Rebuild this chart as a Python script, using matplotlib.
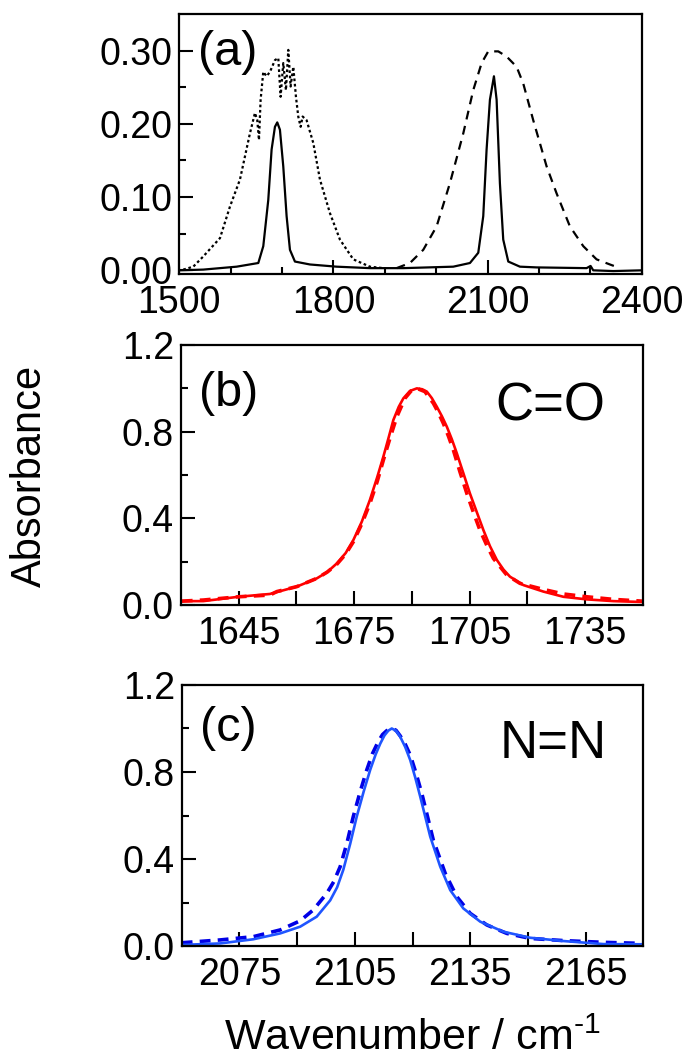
import matplotlib
matplotlib.use("Agg")
import matplotlib.pyplot as plt
from matplotlib.ticker import MultipleLocator, FixedLocator

plt.rcParams["font.family"] = ["Liberation Sans", "DejaVu Sans"]
plt.rcParams["mathtext.fontset"] = "custom"
plt.rcParams["mathtext.rm"] = "Liberation Sans"
plt.rcParams["axes.linewidth"] = 1.6

# (a) overview spectra
a_solid_x = [1500, 1546.7, 1611.6, 1653.8, 1663.5, 1673.2, 1679.7, 1686.2, 1690.7, 1695.9,
             1702.4, 1708.9, 1715.4, 1725.1, 1754.3, 1806.2, 1871.1, 1936.0, 2033.3, 2065.8,
             2082.0, 2091.7, 2098.2, 2104.7, 2112.5, 2117.7, 2124.1, 2130.6, 2140.4, 2163.1,
             2195.5, 2292.8, 2300.6, 2305.8, 2344.8, 2400]
a_solid_y = [0.0, 0.001, 0.005, 0.010, 0.033, 0.096, 0.165, 0.196, 0.202, 0.192,
             0.142, 0.074, 0.028, 0.012, 0.008, 0.005, 0.003, 0.003, 0.005, 0.010,
             0.024, 0.074, 0.165, 0.233, 0.265, 0.233, 0.119, 0.042, 0.012, 0.005,
             0.004, 0.003, 0.006, 0.0, -0.001, 0.0]

a_dot_x = [1507.8, 1527.2, 1546.7, 1579.2, 1598.6, 1618.1, 1637.5, 1647.3, 1651.8, 1655.1,
           1658.3, 1663.5, 1670.0, 1676.5, 1686.2, 1692.7, 1697.2, 1702.4, 1707.6, 1712.2,
           1716.7, 1721.9, 1727.1, 1731.6, 1736.2, 1740.1, 1747.8, 1760.8, 1773.8, 1793.3,
           1812.7, 1838.7, 1871.1, 1897.1]
a_dot_y = [0.001, 0.005, 0.019, 0.044, 0.087, 0.124, 0.187, 0.215, 0.205, 0.178,
           0.233, 0.271, 0.265, 0.271, 0.287, 0.290, 0.237, 0.283, 0.246, 0.301,
           0.251, 0.278, 0.237, 0.210, 0.196, 0.210, 0.205, 0.174, 0.124, 0.078,
           0.042, 0.015, 0.005, 0.003]

a_dash_x = [1923.0, 1949.0, 1974.9, 2000.9, 2026.8, 2052.8, 2072.2, 2088.5, 2101.4, 2120.9,
            2137.1, 2156.6, 2169.6, 2189.0, 2215.0, 2234.5, 2260.4, 2286.4, 2312.3, 2338.3,
            2357.7]
a_dash_y = [0.003, 0.010, 0.028, 0.060, 0.119, 0.187, 0.246, 0.283, 0.299, 0.299,
            0.292, 0.278, 0.255, 0.205, 0.142, 0.105, 0.060, 0.033, 0.015, 0.008,
            0.003]

# (b) C=O band, normalised
b_solid_x = [1630.2, 1635.8, 1644.9, 1653.1, 1660.1, 1665.3, 1668.0, 1670.5, 1672.8, 1674.8,
             1677.0, 1679.1, 1681.0, 1682.6, 1684.0, 1685.2, 1686.6, 1687.8, 1689.5, 1691.3,
             1692.7, 1693.9, 1695.2, 1696.5, 1697.8, 1699.1, 1700.4, 1701.7, 1703.4, 1705.1,
             1706.9, 1708.6, 1710.3, 1712.1, 1713.8, 1715.5, 1719.0, 1724.2, 1729.4, 1735.5,
             1742.4, 1749.8]
b_solid_y = [0.018, 0.018, 0.038, 0.051, 0.085, 0.123, 0.152, 0.192, 0.240, 0.300,
             0.385, 0.485, 0.590, 0.685, 0.775, 0.854, 0.915, 0.954, 0.988, 1.000,
             0.996, 0.985, 0.955, 0.915, 0.872, 0.823, 0.765, 0.700, 0.608, 0.515,
             0.428, 0.346, 0.272, 0.208, 0.164, 0.131, 0.092, 0.062, 0.038, 0.026,
             0.018, 0.014]
b_dash_x = [1630.2, 1635.8, 1644.9, 1653.1, 1654.9, 1660.1, 1665.3, 1668.0, 1670.5, 1672.8,
            1674.8, 1677.0, 1679.1, 1681.0, 1682.6, 1684.4, 1686.1, 1688.2, 1689.8, 1691.3,
            1693.4, 1695.6, 1696.9, 1698.2, 1699.5, 1700.8, 1702.5, 1704.3, 1706.0, 1707.7,
            1709.5, 1711.2, 1714.7, 1718.1, 1724.2, 1729.4, 1735.5, 1742.4, 1749.8]
b_dash_y = [0.018, 0.023, 0.038, 0.046, 0.062, 0.085, 0.123, 0.152, 0.188, 0.235,
            0.292, 0.375, 0.469, 0.570, 0.669, 0.775, 0.869, 0.954, 0.988, 1.000,
            0.985, 0.931, 0.888, 0.838, 0.780, 0.715, 0.615, 0.515, 0.428, 0.346,
            0.275, 0.215, 0.138, 0.100, 0.072, 0.051, 0.038, 0.026, 0.018]

# (c) N=N band, normalised
c_solid_x = [2060.0, 2070.0, 2078.6, 2085.6, 2090.8, 2095.1, 2098.6, 2100.4, 2102.0, 2103.8,
             2105.5, 2107.3, 2109.0, 2110.4, 2111.6, 2112.7, 2113.7, 2114.6, 2115.7, 2116.8,
             2118.1, 2119.4, 2120.7, 2122.0, 2123.3, 2124.6, 2127.2, 2129.8, 2133.2, 2137.6,
             2143.6, 2150.6, 2159.2, 2169.6, 2180.0]
c_solid_y = [0.005, 0.012, 0.031, 0.058, 0.089, 0.135, 0.210, 0.270, 0.350, 0.470,
             0.595, 0.710, 0.810, 0.880, 0.930, 0.968, 0.990, 1.000, 0.990, 0.962,
             0.915, 0.855, 0.775, 0.687, 0.595, 0.503, 0.365, 0.257, 0.173, 0.112,
             0.066, 0.038, 0.023, 0.009, 0.008]
c_dash_x = [2060.0, 2070.0, 2078.6, 2085.6, 2090.8, 2094.2, 2097.7, 2099.5, 2101.2, 2102.9,
            2104.6, 2106.4, 2108.1, 2109.6, 2111.1, 2112.2, 2113.3, 2114.6, 2115.7, 2116.8,
            2118.1, 2119.4, 2120.9, 2122.4, 2123.9, 2125.4, 2128.5, 2131.5, 2135.0, 2139.3,
            2144.5, 2150.6, 2159.2, 2169.6, 2180.0]
c_dash_y = [0.015, 0.028, 0.043, 0.074, 0.116, 0.166, 0.242, 0.295, 0.365, 0.470,
            0.595, 0.710, 0.809, 0.885, 0.940, 0.972, 0.990, 1.000, 0.992, 0.966,
            0.928, 0.878, 0.795, 0.702, 0.595, 0.487, 0.334, 0.227, 0.150, 0.097,
            0.058, 0.035, 0.025, 0.017, 0.012]

FS_TICK = 27
FS_PANEL = 35
FS_BAND = 38


def style_axes(ax):
    ax.tick_params(which="both", direction="in", top=False, right=False,
                   labelsize=FS_TICK, width=1.5)
    ax.tick_params(axis="x", which="both", pad=8)
    ax.tick_params(axis="y", which="both", pad=5)
    ax.tick_params(which="major", length=10)
    ax.tick_params(which="minor", length=5)


fig = plt.figure(figsize=(6.88, 10.62), dpi=100)
ax_a = fig.add_axes([0.2606, 0.742, 0.672, 0.2448])
ax_b = fig.add_axes([0.2631, 0.4303, 0.671, 0.2448])
ax_c = fig.add_axes([0.2641, 0.1092, 0.671, 0.2458])

# panel (a)
ax_a.plot(a_dot_x, a_dot_y, color="black", lw=1.6, ls=(0, (1.2, 1.2)))
ax_a.plot(a_dash_x, a_dash_y, color="black", lw=1.6, ls=(0, (4, 3)))
ax_a.plot(a_solid_x, a_solid_y, color="black", lw=1.6)
ax_a.set_xlim(1500, 2400)
ax_a.set_ylim(-0.005, 0.35)
ax_a.xaxis.set_major_locator(MultipleLocator(300))
ax_a.xaxis.set_minor_locator(MultipleLocator(100))
ax_a.yaxis.set_major_locator(FixedLocator([0.0, 0.1, 0.2, 0.3]))
ax_a.yaxis.set_minor_locator(FixedLocator([0.05, 0.15, 0.25]))
ax_a.set_yticklabels(["0.00", "0.10", "0.20", "0.30"])
style_axes(ax_a)
ax_a.text(0.04, 0.94, "(a)", transform=ax_a.transAxes, fontsize=FS_PANEL,
          ha="left", va="top")

# panel (b)
ax_b.plot(b_dash_x, b_dash_y, color="#ff0000", lw=2.6, ls=(0, (3, 2)))
ax_b.plot(b_solid_x, b_solid_y, color="#ff0000", lw=1.9)
ax_b.set_xlim(1630, 1750)
ax_b.set_ylim(0, 1.2)
ax_b.xaxis.set_major_locator(FixedLocator([1645, 1675, 1705, 1735]))
ax_b.xaxis.set_minor_locator(FixedLocator([1660, 1690, 1720]))
ax_b.yaxis.set_major_locator(MultipleLocator(0.4))
ax_b.yaxis.set_minor_locator(MultipleLocator(0.2))
style_axes(ax_b)
ax_b.tick_params(axis="x", which="minor", length=10)
ax_b.text(0.04, 0.9, "(b)", transform=ax_b.transAxes, fontsize=FS_PANEL,
          ha="left", va="top")
ax_b.text(0.92, 0.86, "C=O", transform=ax_b.transAxes, fontsize=FS_BAND,
          ha="right", va="top")

# panel (c)
ax_c.plot(c_dash_x, c_dash_y, color="#0000e6", lw=2.6, ls=(0, (3, 2)))
ax_c.plot(c_solid_x, c_solid_y, color="#1f55ff", lw=1.9)
ax_c.set_xlim(2060, 2180)
ax_c.set_ylim(0, 1.2)
ax_c.xaxis.set_major_locator(FixedLocator([2075, 2105, 2135, 2165]))
ax_c.xaxis.set_minor_locator(FixedLocator([2090, 2120, 2150]))
ax_c.yaxis.set_major_locator(MultipleLocator(0.4))
ax_c.yaxis.set_minor_locator(MultipleLocator(0.2))
style_axes(ax_c)
ax_c.tick_params(axis="x", which="minor", length=10)
ax_c.text(0.04, 0.92, "(c)", transform=ax_c.transAxes, fontsize=FS_PANEL,
          ha="left", va="top")
ax_c.text(0.92, 0.87, "N=N", transform=ax_c.transAxes, fontsize=FS_BAND,
          ha="right", va="top")

ax_c.set_xlabel(r"Wavenumber / cm$^{\text{-1}}$", fontsize=31, labelpad=18)
fig.text(30 / 688, 1 - 476 / 1062, "Absorbance", rotation=90, fontsize=30,
         ha="center", va="center")

fig.savefig("out.png", dpi=100)
